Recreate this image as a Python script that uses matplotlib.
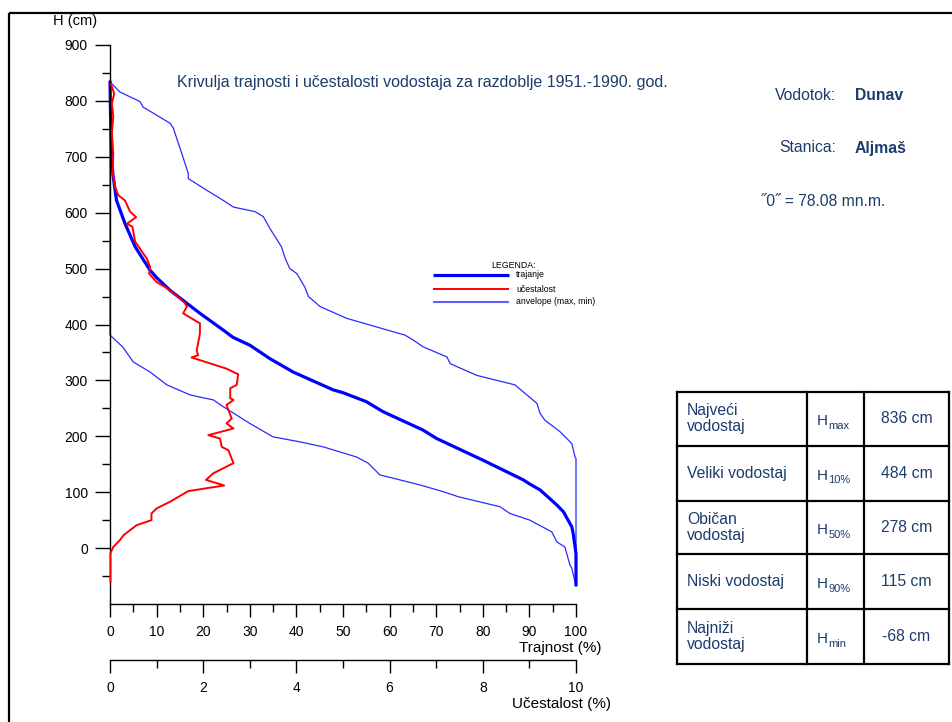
import matplotlib
matplotlib.use("Agg")
import matplotlib.pyplot as plt
from matplotlib.patches import Rectangle
from matplotlib.ticker import MultipleLocator, FixedLocator

plt.rcParams["font.family"] = ["Liberation Sans", "DejaVu Sans"]

W, H = 952, 722
NAVY = "#1c3c6c"

# Duration curve: percent of time exceeded vs water level (cm)
trajanje_pct = [0, 0.1, 0.3, 0.6, 1.4, 3.2, 5.4, 8.6, 10, 12.9, 19.3, 24.3, 26.4,
                30.0, 34.3, 39.3, 47.9, 50, 55, 58.6, 67.2, 70.1, 80.1, 88.7, 90,
                92.3, 95.9, 97.3, 98.3, 99.1, 99.4, 99.8, 100, 100]
trajanje_h = [836, 780, 720, 670, 622, 581, 539, 497, 484, 461, 420, 390, 377,
              363, 339, 315, 283, 278, 262, 244, 211, 196, 157, 122, 115,
              104, 77, 65, 50, 38, 26, 2, -10, -68]

# Envelope of yearly duration curves (maximum)
env_max_pct = [0, 0.36, 2.1, 6.4, 7.1, 12.9, 13.6, 15.4, 16.8, 16.8, 20.8, 24.3, 26.5,
               31.1, 32.9, 34.3, 36.8, 37.6, 38.6, 40.1, 41.8, 42.6, 45.1, 50.8, 63.3,
               65.1, 67.2, 72.3, 73.0, 78.7, 86.9, 91.6, 92.3, 93.3, 96.6, 99.1, 99.8,
               100, 100]
env_max_h = [836, 831, 816, 799, 789, 760, 751, 706, 670, 661, 640, 622, 610,
             602, 593, 572, 539, 518, 500, 491, 467, 450, 432, 411, 381,
             372, 360, 342, 330, 309, 292, 259, 241, 229, 208, 187, 163,
             160, -68]

# Envelope of yearly duration curves (minimum)
env_min_pct = [0, 0, 2.7, 5.0, 8.6, 12.2, 17.2, 22.2, 24.3, 30.0, 35.0, 40.8, 45.8,
               52.9, 55.4, 57.9, 66.5, 71.5, 74.7, 83.7, 85.8, 90.1, 94.8, 95.9,
               97.6, 98.7, 99.1, 100]
env_min_h = [836, 381, 360, 333, 315, 292, 274, 265, 253, 223, 199, 190, 181,
             163, 152, 131, 113, 101, 92, 74, 62, 50, 29, 11,
             2, -30, -36, -68]

# Frequency curve: percent of days per water level
ucestalost_pct = [0.02, 0.09, 0.04, 0.07, 0.04, 0.07, 0.06, 0.11, 0.18, 0.32, 0.43, 0.56,
                  0.36, 0.48, 0.54, 0.64, 0.79, 0.86, 0.84, 1.00, 1.22, 1.50, 1.61, 1.65,
                  1.57, 1.75, 1.93, 1.93, 1.89, 1.86, 1.89, 1.75, 2.50, 2.75, 2.72, 2.58,
                  2.58, 2.65, 2.50, 2.61, 2.50, 2.65, 2.11, 2.36, 2.40, 2.54, 2.65, 2.22,
                  2.06, 2.45, 1.68, 1.29, 1.00, 0.89, 0.89, 0.57, 0.29, 0.21, 0.07, 0.01, 0.01]
ucestalost_h = [830, 813, 795, 772, 742, 706, 670, 646, 631, 622, 602, 592,
                580, 575, 548, 536, 518, 503, 491, 476, 465, 447, 438, 432,
                420, 411, 402, 384, 366, 354, 345, 341, 321, 311, 292, 286,
                268, 265, 256, 232, 223, 214, 202, 196, 181, 175, 152, 134,
                122, 112, 102, 83, 71, 62, 50, 41, 23, 14, 2, -9, -60]

# Characteristic water levels
table_names = ["Najveći\nvodostaj", "Veliki vodostaj", "Običan\nvodostaj",
               "Niski vodostaj", "Najniži\nvodostaj"]
table_subs = ["max", "10%", "50%", "90%", "min"]
table_values = [836, 484, 278, 115, -68]

fig = plt.figure(figsize=(W / 100, H / 100), dpi=100)


def fx(px):
    return px / W


def fy(py):
    return 1 - py / H


ax = fig.add_axes([fx(110), fy(604), (576 - 110) / W, (604 - 45) / H])
ax.set_xlim(0, 100)
ax.set_ylim(-100, 900)
ax.plot(env_max_pct, env_max_h, color="#2a2aff", lw=0.9, clip_on=False)
ax.plot(env_min_pct, env_min_h, color="#2a2aff", lw=0.9, clip_on=False)
ax.plot(trajanje_pct, trajanje_h, color="#0000ff", lw=2.3, clip_on=False,
        solid_capstyle="butt", solid_joinstyle="round")

for s in ("top", "right"):
    ax.spines[s].set_visible(False)
for s in ("left", "bottom"):
    ax.spines[s].set_linewidth(1.0)
ax.yaxis.set_major_locator(FixedLocator(range(0, 901, 100)))
ax.yaxis.set_minor_locator(FixedLocator(range(-50, 851, 100)))
ax.xaxis.set_major_locator(MultipleLocator(10))
ax.xaxis.set_minor_locator(MultipleLocator(5))
ax.tick_params(axis="y", which="major", length=11, width=1, labelsize=10, pad=5)
ax.tick_params(axis="y", which="minor", length=5.5, width=1)
ax.tick_params(axis="x", which="major", length=9, width=1, labelsize=10, pad=6)
ax.tick_params(axis="x", which="minor", length=6, width=1)

ax2 = ax.twiny()
ax2.set_xlim(0, 10)
ax2.plot(ucestalost_pct, ucestalost_h, color="#ff0000", lw=1.4, clip_on=False)
for s in ("top", "right", "left"):
    ax2.spines[s].set_visible(False)
ax2.spines["bottom"].set_visible(True)
ax2.spines["bottom"].set_linewidth(1.0)
ax2.spines["bottom"].set_position(("outward", 40.3))
ax2.xaxis.set_ticks_position("bottom")
ax2.xaxis.set_label_position("bottom")
ax2.xaxis.set_major_locator(MultipleLocator(2))
ax2.xaxis.set_minor_locator(MultipleLocator(1))
ax2.tick_params(axis="x", which="major", length=9, width=1, labelsize=10, pad=6)
ax2.tick_params(axis="x", which="minor", length=6, width=1)

# pixel-space overlay for frame, texts, legend and table
ov = fig.add_axes([0, 0, 1, 1], facecolor="none")
ov.set_xlim(0, W)
ov.set_ylim(H, 0)
ov.axis("off")

ov.add_patch(Rectangle((9, 13), 1200, 1000, fill=False, lw=1.6, ec="black"))

ov.text(75.5, 21, "H (cm)", fontsize=10.5, ha="center", va="center")
ov.text(560, 648, "Trajnost (%)", fontsize=11, ha="center", va="center")
ov.text(562, 704, "Učestalost (%)", fontsize=11, ha="center", va="center")

ov.text(422.5, 83, "Krivulja trajnosti i učestalosti vodostaja za razdoblje 1951.-1990. god.",
        fontsize=11.5, ha="center", va="center", color=NAVY)
ov.text(836, 95, "Vodotok:", fontsize=11.3, ha="right", va="center", color=NAVY)
ov.text(855, 95, "Dunav", fontsize=11.3, ha="left", va="center", color=NAVY,
        fontweight="bold")
ov.text(836, 148, "Stanica:", fontsize=11.3, ha="right", va="center", color=NAVY)
ov.text(855, 148, "Aljmaš", fontsize=11.3, ha="left", va="center", color=NAVY,
        fontweight="bold")
ov.text(823.5, 202, "˝0˝ = 78.08 mn.m.", fontsize=11.3, ha="center", va="center",
        color=NAVY)

# legend
ov.text(514, 265, "LEGENDA:", fontsize=6.3, ha="center", va="center")
leg = [("trajanje", "#0000ff", 2.3, 274.5),
       ("učestalost", "#ff0000", 1.4, 289),
       ("anvelope (max, min)", "#5c5cff", 1.5, 301.5)]
for lab, col, lw, yy in leg:
    ov.plot([433, 509], [yy, yy], color=col, lw=lw, solid_capstyle="butt")
    ov.text(516, yy, lab, fontsize=6.3, ha="left", va="center")

# table of characteristic levels
row_edges = [391.7, 445.7, 500.7, 554.3, 609.3, 664]
col_edges = [677.3, 806.7, 864, 949.3]
for yy in row_edges:
    ov.plot([col_edges[0], col_edges[-1]], [yy, yy], color="black", lw=1.6,
            solid_capstyle="projecting")
for xx in col_edges:
    ov.plot([xx, xx], [row_edges[0], row_edges[-1]], color="black", lw=1.6,
            solid_capstyle="projecting")
for i, (name, sub, val) in enumerate(zip(table_names, table_subs, table_values)):
    yc = (row_edges[i] + row_edges[i + 1]) / 2
    ov.text(687, yc, name, fontsize=11.3, ha="left", va="center", color=NAVY,
            linespacing=1.1)
    ov.text(817, yc + 6.3, "H", fontsize=11, ha="left", va="baseline", color=NAVY)
    ov.text(828.5, yc + 10, sub, fontsize=8, ha="left", va="baseline", color=NAVY)
    ov.text(906.5, yc, f"{val} cm", fontsize=11.3, ha="center", va="center", color=NAVY)

fig.savefig("out.png", dpi=100)
